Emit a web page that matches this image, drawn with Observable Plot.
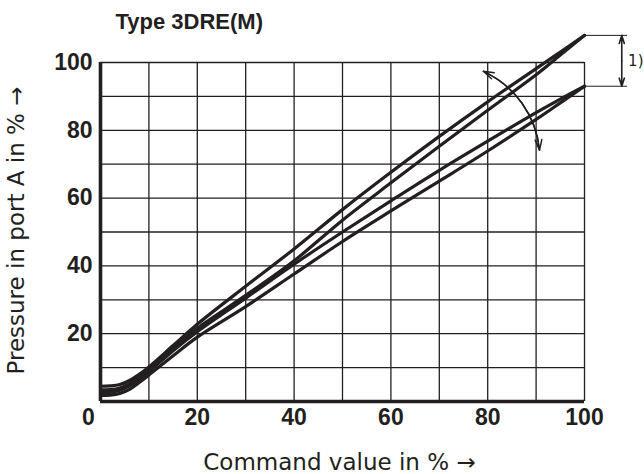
<!DOCTYPE html>
<html>
<head>
<meta charset="utf-8">
<script src="https://cdn.jsdelivr.net/npm/d3@7"></script>
<script src="https://cdn.jsdelivr.net/npm/@observablehq/plot@0.6"></script>
<style>
  html, body { margin: 0; padding: 0; background: #ffffff; }
  svg { display: block; }
</style>
</head>
<body>
<div id="chart"></div>
<script>
// ---- data ----
const commandValues = [0, 2, 4, 6, 8, 10, 15, 20, 30, 40, 50, 60, 70, 80, 90, 95, 100];
// upper loop (ends at 108 %)
const upperOuter = [4.5, 4.6, 5.0, 6.2, 8.0, 10.2, 16.5, 22.8, 34.0, 45.0, 56.6, 67.6, 78.2, 88.4, 98.2, 103.1, 108];
const upperInner = [3.4, 3.5, 4.0, 5.3, 7.2, 9.5, 15.6, 21.6, 31.3, 41.5, 53.5, 64.5, 75.3, 85.9, 96.4, 102.2, 108];
// lower loop (ends at 93 %)
const lowerInner = [2.6, 2.7, 3.3, 4.6, 6.6, 8.8, 15.0, 20.6, 30.5, 40.5, 50.0, 59.2, 68.2, 76.8, 85.2, 89.2, 93];
const lowerOuter = [1.8, 1.9, 2.4, 3.6, 5.6, 7.8, 13.5, 19.0, 28.0, 37.6, 47.2, 56.2, 65.0, 73.9, 83.2, 88.1, 93];

const gridX = [0, 10, 20, 30, 40, 50, 60, 70, 80, 90, 100];
const gridY = [0, 10, 20, 30, 40, 50, 60, 70, 80, 90, 100];
const xTicks = [20, 40, 60, 80, 100];
const xZeroTick = [0];
const yTicks = [20, 40, 60, 80, 100];

const title = "Type 3DRE(M)";
const xLabel = "Command value in % →";
const yLabel = "Pressure in port A in % →";

// tolerance band annotation "1)"
const bandLevels = [108, 93];
const bandLineX = [100, 108.9];
const bandArrowX = 107.7;
const bandMid = 100.5;
const noteText = "1)";
const notePos = {x: 110.6, y: 100.4};
// curved double arrow
const curvedArrow = {x1: 79.1, y1: 97.4, x2: 90.7, y2: 74.1};

// ---- build ----
const ink = "#231f20";
const series = [
  {name: "upper outer", values: upperOuter},
  {name: "upper inner", values: upperInner},
  {name: "lower inner", values: lowerInner},
  {name: "lower outer", values: lowerOuter}
];
const rows = series.flatMap(s => commandValues.map((x, i) => ({x, y: s.values[i], name: s.name})));

const tickFont = "'Liberation Sans', Arial, sans-serif";
const labelFont = "'DejaVu Sans', sans-serif";

const chart = Plot.plot({
  width: 644,
  height: 474,
  marginLeft: 100,
  marginRight: 60,
  marginTop: 62,
  marginBottom: 73,
  x: {domain: [0, 100]},
  y: {domain: [0, 100]},
  style: {background: "#ffffff", color: ink, fontFamily: tickFont},
  marks: [
    Plot.ruleX(gridX, {stroke: ink, strokeWidth: 1.3}),
    Plot.ruleY(gridY, {stroke: ink, strokeWidth: 1.3}),
    Plot.ruleX([0], {stroke: ink, strokeWidth: 3.6}),
    Plot.ruleY([0], {stroke: ink, strokeWidth: 3.6}),
    Plot.line(rows, {x: "x", y: "y", z: "name", curve: "catmull-rom", stroke: ink, strokeWidth: 3.2}),
    // tolerance band annotation
    Plot.ruleY(bandLevels, {x1: bandLineX[0], x2: bandLineX[1], stroke: ink, strokeWidth: 1}),
    Plot.arrow(bandLevels, {x1: () => bandArrowX, y1: () => bandMid, x2: () => bandArrowX, y2: d => d,
      stroke: ink, strokeWidth: 1.6, headLength: 11, headAngle: 35}),
    Plot.text([noteText], {x: () => notePos.x, y: () => notePos.y, fontFamily: labelFont, fontSize: 15, fill: ink}),
    // curved double arrow
    Plot.arrow([curvedArrow], {x1: "x1", y1: "y1", x2: "x2", y2: "y2", bend: 30,
      stroke: ink, strokeWidth: 1.5, headLength: 11, headAngle: 35}),
    Plot.arrow([curvedArrow], {x1: "x2", y1: "y2", x2: "x1", y2: "y1", bend: -30,
      stroke: ink, strokeWidth: 1.5, headLength: 11, headAngle: 35}),
    // axes
    Plot.axisX(xTicks, {tickSize: 0, tickPadding: 7, fontSize: 23, fontWeight: "bold", fontFamily: tickFont, label: null, fill: ink}),
    Plot.axisX(xZeroTick, {tickSize: 0, tickPadding: 7, dx: -12, fontSize: 23, fontWeight: "bold", fontFamily: tickFont, label: null, fill: ink}),
    Plot.axisY(yTicks, {tickSize: 0, tickPadding: 8, fontSize: 23, fontWeight: "bold", fontFamily: tickFont, label: null, fill: ink}),
    // texts
    Plot.text([title], {frameAnchor: "top-left", dx: 15, dy: -34, textAnchor: "start", lineAnchor: "bottom",
      fontSize: 22, fontWeight: "bold", fontFamily: tickFont, fill: ink}),
    Plot.text([xLabel], {frameAnchor: "bottom", dx: -3, dy: 68, lineAnchor: "bottom",
      fontSize: 23, fontFamily: labelFont, fill: ink}),
    Plot.text([yLabel], {frameAnchor: "left", textAnchor: "middle", lineAnchor: "middle", dx: -84, dy: -1.5, rotate: -90,
      fontSize: 23, fontFamily: labelFont, fill: ink})
  ]
});
document.getElementById("chart").appendChild(chart);
</script>
</body>
</html>
